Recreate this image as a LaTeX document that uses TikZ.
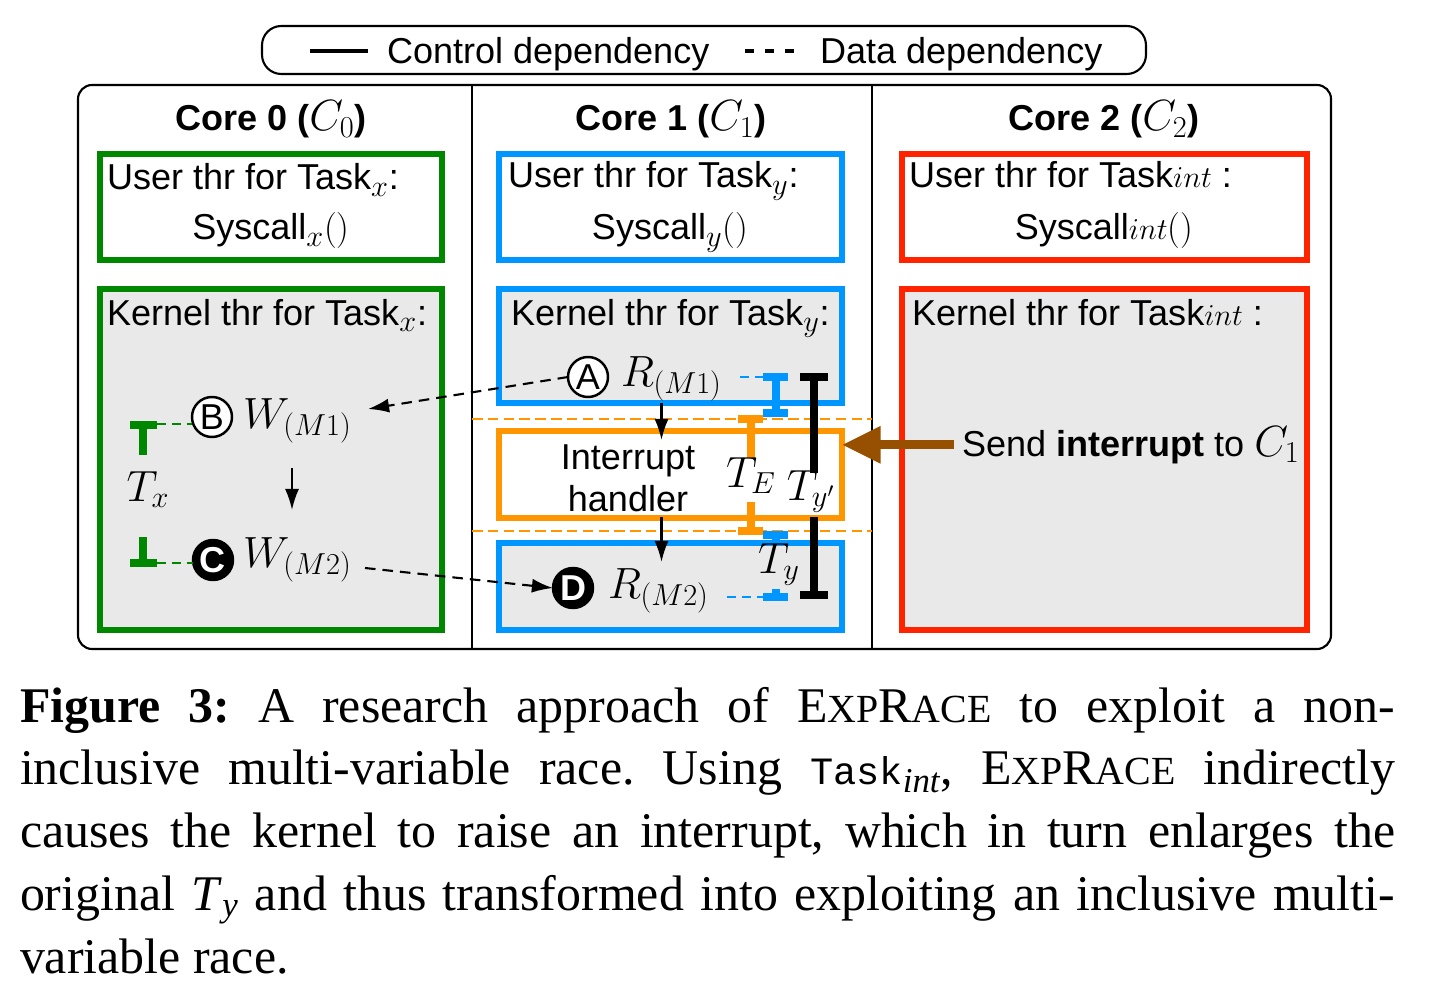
\documentclass[tikz,border=0pt]{standalone}
\usepackage{fontspec}
\setsansfont{Liberation Sans}
\newfontfamily\capserif{Liberation Serif}
\newfontfamily\capmono{Liberation Mono}
\usetikzlibrary{arrows.meta,calc}
\DeclareMathSizes{20.5}{24}{16.5}{12}
\definecolor{cgreen}{RGB}{0,135,0}
\definecolor{cblue}{RGB}{0,150,255}
\definecolor{cred}{RGB}{255,35,0}
\definecolor{corange}{RGB}{255,150,0}
\definecolor{cbrown}{RGB}{150,80,0}
\definecolor{cgray}{RGB}{233,233,233}
\newdimen\px \px=0.02cm
\newcommand\exprace{E{\fontsize{22.7}{35.7}\selectfont XP}R{\fontsize{22.7}{35.7}\selectfont ACE}}
\newcommand\intsub{$\scriptstyle int$}
\newcommand\thinparens{{\rmfamily()}}
\begin{document}
\begin{tikzpicture}[x=0.02cm,y=-0.02cm,
  every node/.style={font=\sffamily\fontsize{20.5}{24}\selectfont, inner sep=0pt, outer sep=0pt},
  cbox/.style={draw=#1, line width=3.6pt},
  circ/.style={circle, draw, line width=1.4pt, minimum size=40\px, inner sep=0pt, fill=white},
  bcirc/.style={circle, draw, line width=1.4pt, minimum size=40\px, inner sep=0pt, fill=black, text=white, font=\sffamily\bfseries\fontsize{20.5}{24}\selectfont},
  dep/.style={line width=1.2pt, dash pattern=on 6pt off 4pt},
  ctl/.style={line width=1.2pt},
  tip/.style={-{Latex[length=12pt,width=8pt]}},
  meas/.style={line width=4pt},
  lnk/.style={line width=1.6pt, dash pattern=on 5pt off 3.5pt},
  odash/.style={corange, line width=1.4pt, dash pattern=on 6pt off 3pt}
]
\useasboundingbox (0,0) rectangle (1429,986);

% legend
\node[draw, line width=1.2pt, rounded corners=11pt, minimum width=884\px, minimum height=48\px] (legend) at (704,50) {};
\coordinate (lsa) at (310,51); \coordinate (lsb) at (368,51);
\draw[line width=2.4pt] (lsa) -- (lsb);
\node[anchor=base west] (lc) at (387,64) {Control dependency};
\coordinate (lda) at (745,51); \coordinate (ldb) at (800,51);
\draw[line width=2.4pt, dash pattern=on 5pt off 6.5pt] (lda) -- (ldb);
\node[anchor=base west] (ld) at (820,64) {Data dependency};

% outer frame
\draw[line width=1.2pt, rounded corners=8pt] (78,85) rectangle (1331,649);
\draw[line width=1.2pt] (472,85) -- (472,649) (872,85) -- (872,649);

% headers
\node[anchor=base] (h0) at (271,131) {\bfseries Core 0 (\mdseries$C_0$\bfseries)};
\node[anchor=base] (h1) at (671,131) {\bfseries Core 1 (\mdseries$C_1$\bfseries)};
\node[anchor=base] (h2) at (1104,131) {\bfseries Core 2 (\mdseries$C_2$\bfseries)};

% boxes
\node[cbox=cgreen, minimum width=342\px, minimum height=106\px] (u0) at (271,207) {};
\node[cbox=cgreen, fill=cgray, minimum width=342\px, minimum height=341\px] (k0) at (271,459.5) {};
\node[cbox=cblue, minimum width=343\px, minimum height=106\px] (u1) at (670.5,207) {};
\node[cbox=cblue, fill=cgray, minimum width=343\px, minimum height=114\px] (k1a) at (670.5,346) {};
\node[cbox=corange, fill=white, minimum width=343\px, minimum height=87\px] (ih) at (670.5,474.5) {};
\node[cbox=cblue, fill=cgray, minimum width=343\px, minimum height=87\px] (k1b) at (670.5,586.5) {};
\node[cbox=cred, minimum width=405\px, minimum height=106\px] (u2) at (1104.5,207) {};
\node[cbox=cred, fill=cgray, minimum width=405\px, minimum height=341\px] (k2) at (1104.5,459.5) {};

% orange dashed boundaries
\coordinate (oa1) at (472,419); \coordinate (ob1) at (872,419);
\coordinate (oa2) at (472,531); \coordinate (ob2) at (872,531);
\draw[odash] (oa1) -- (ob1);
\draw[odash] (oa2) -- (ob2);

% texts in boxes
\node[anchor=base west] (ut0) at (107,190) {User thr for Task$_x$:};
\node[anchor=base] (sc0) at (271,240) {Syscall$_x$\thinparens};
\node[anchor=base west] (ut1) at (508,188) {User thr for Task$_y$:};
\node[anchor=base] (sc1) at (670,240) {Syscall$_y$\thinparens};
\node[anchor=base west] (ut2) at (909,188) {User thr for Task\intsub\ :};
\node[anchor=base] (sc2) at (1104,240) {Syscall\intsub\thinparens};
\node[anchor=base west] (kt0) at (107,325) {Kernel thr for Task$_x$:};
\node[anchor=base west] (kt1) at (511,325) {Kernel thr for Task$_y$:};
\node[anchor=base west] (kt2) at (912,325) {Kernel thr for Task\intsub\ :};

% core 0 content
\node[circ] (B) at (212,417) {B};
\node[bcirc] (C) at (213,560) {C};
\node[anchor=base west] (wm1) at (243,428) {$W_{(M1)}$};
\node[anchor=base west] (wm2) at (243,567) {$W_{(M2)}$};
\node[anchor=base] (tx) at (148,501) {$T_x$};
\draw[ctl, tip] ($(wm1.base west)+(49,40)$) -- ($(wm2.base west)+(49,-57)$);
\draw[cgreen, meas] (130,425) -- (157,425) (143,425) -- (143,455);
\draw[cgreen, meas] (143,537) -- (143,563) (130,563) -- (157,563);
\draw[cgreen, lnk] (157,424) -- ($(B.west)+(0,7)$);
\draw[cgreen, lnk] (157,563) -- ($(C.west)+(0,3)$);

% core 1 content
\node[circ] (A) at (588,377) {A};
\node[anchor=base west] (rm1) at (621,386) {$R_{(M1)}$};
\node[bcirc] (D) at (573,588) {D};
\node[anchor=base west] (rm2) at (608,598) {$R_{(M2)}$};
\node[align=center] (iht) at (628,478) {Interrupt\\handler};
\draw[ctl, tip] ($(ih.north)+(-9,-28)$) -- ($(ih.north)+(-9,9)$);
\draw[ctl, tip] ($(ih.south)+(-9,-1)$) -- ($(ih.south)+(-9,44)$);
\draw[dep, tip] (A.west) -- ($(wm1.base west)+(125,-19)$);
\draw[dep, tip] ($(wm2.base west)+(122,1)$) -- (D.west);

% measurement bars
\draw[cblue, lnk] (740,377) -- (763,377);
\draw[cblue, meas] (763,377) -- (788,377) (776,377) -- (776,413) (763,413) -- (788,413);
\draw[cblue, lnk] (727,597) -- (763,597);
\draw[cblue, meas] (763,535) -- (788,535) (776,535) -- (776,542) (776,589) -- (776,597) (763,597) -- (788,597);
\draw[corange, meas] (738,419) -- (763,419) (751,419) -- (751,458) (751,502) -- (751,531) (738,531) -- (763,531);
\draw[black, line width=4.5pt] (800,377) -- (828,377) (814,377) -- (814,473) (814,517) -- (814,595) (800,595) -- (828,595);
\node[anchor=base] (te) at (751,487) {$T_E$};
\node[anchor=base] (typ) at (811,500) {$T_{y'}$};
\node[anchor=base] (ty) at (779,573) {$T_y$};

% core 2 content
\node[anchor=base west] (si) at (962,456) {Send \textbf{interrupt} to $C_1$};
\draw[cbrown, line width=5pt, -{Triangle[length=22pt,width=20pt]}] ($(si.west)+(-8,0)$) -- (si.west -| ih.east);

% caption
\node[anchor=north west, text width=1375\px, align=justify, font=\capserif\fontsize{28.4}{35.7}\selectfont\frenchspacing] (cap) at (20,687) {{\bfseries Figure 3:} A research approach of \exprace\ to exploit a non-\linebreak inclusive multi-variable race. Using {\capmono\fontsize{22}{35.7}\selectfont Task}\textsubscript{\itshape int}, \exprace\ indirectly\linebreak causes the kernel to raise an interrupt, which in turn enlarges the\linebreak original \textit{T}\textsubscript{\itshape y} and thus transformed into exploiting an inclusive multi-\linebreak variable race.};
\end{tikzpicture}
\end{document}
